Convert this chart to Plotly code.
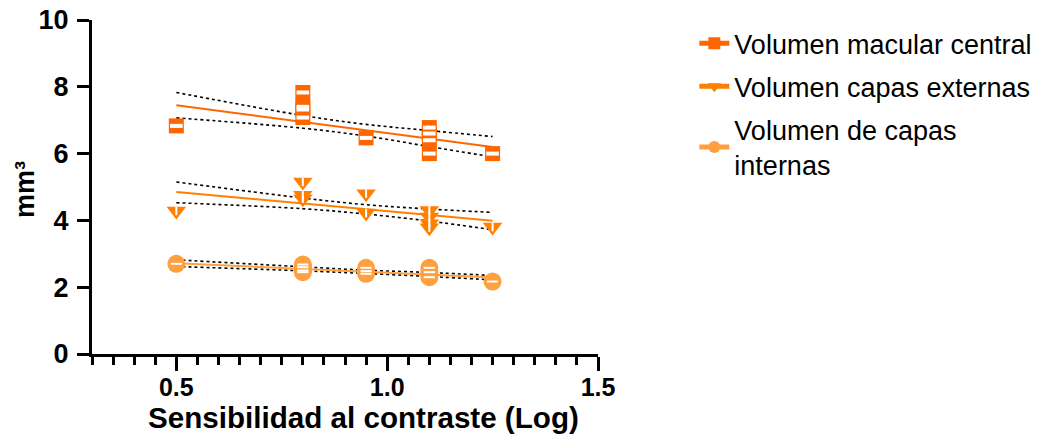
import plotly.graph_objects as go

# ---- data ----
x_macular = [0.5, 0.8, 0.8, 0.8, 0.8, 0.95, 1.1, 1.1, 1.1, 1.1, 1.25]
y_macular = [6.83, 7.83, 7.40, 7.32, 7.08, 6.47, 6.78, 6.60, 6.40, 6.00, 6.00]

x_externas = [0.5, 0.8, 0.8, 0.8, 0.95, 0.95, 1.1, 1.1, 1.1, 1.1, 1.25]
y_externas = [4.28, 5.15, 4.75, 4.65, 4.80, 4.22, 4.30, 4.10, 3.90, 3.78, 3.80]

x_internas = [0.5, 0.8, 0.8, 0.8, 0.8, 0.95, 0.95, 0.95, 1.1, 1.1, 1.1, 1.25]
y_internas = [2.70, 2.68, 2.60, 2.50, 2.45, 2.58, 2.48, 2.40, 2.58, 2.45, 2.30, 2.17]

# regression line and 95% band read at these x positions
x_fit = [0.5, 0.8, 0.95, 1.1, 1.25]
fit_macular = [7.45, 6.95, 6.70, 6.45, 6.20]
upper_macular = [7.83, 7.14, 6.875, 6.69, 6.51]
lower_macular = [7.07, 6.76, 6.525, 6.21, 5.90]

fit_externas = [4.85, 4.51, 4.33, 4.16, 3.99]
upper_externas = [5.15, 4.67, 4.47, 4.34, 4.24]
lower_externas = [4.53, 4.35, 4.19, 3.98, 3.72]

fit_internas = [2.72, 2.55, 2.46, 2.38, 2.29]
upper_internas = [2.82, 2.61, 2.51, 2.44, 2.35]
lower_internas = [2.62, 2.49, 2.41, 2.32, 2.22]

names = ["Volumen macular central", "Volumen capas externas", "Volumen de capas<br>internas"]
colors = ["#FF6600", "#FF8000", "#FFA040"]

x_ticks = [0.5, 1.0, 1.5]
x_tick_labels = ["0.5", "1.0", "1.5"]
y_ticks = [0, 2, 4, 6, 8, 10]

x_title = "Sensibilidad al contraste (Log)"
y_title = "mm³"

series = [
    (x_macular, y_macular, fit_macular, upper_macular, lower_macular),
    (x_externas, y_externas, fit_externas, upper_externas, lower_externas),
    (x_internas, y_internas, fit_internas, upper_internas, lower_internas),
]

FONT = "Liberation Sans, Arial, Helvetica, sans-serif"

fig = go.Figure()

marker_main = [
    dict(symbol="square", size=15),
    dict(symbol="triangle-down", size=17),
    dict(symbol="circle", size=18),
]
marker_inner = [
    dict(symbol="line-ew", size=9, line=dict(color="white", width=4)),
    dict(symbol="line-ns", size=6, line=dict(color="white", width=2)),
    dict(symbol="line-ew", size=8, line=dict(color="white", width=2)),
]

for i, (xv, yv, fit, up, lo) in enumerate(series):
    for band in (lo, up):
        fig.add_trace(go.Scatter(x=x_fit, y=band, mode="lines", showlegend=False,
                                 line=dict(color="black", width=1.6, dash="dot", shape="spline"),
                                 hoverinfo="skip"))
    fig.add_trace(go.Scatter(x=[x_fit[0], x_fit[-1]], y=[fit[0], fit[-1]], mode="lines",
                             showlegend=False, line=dict(color=colors[i], width=2),
                             hoverinfo="skip"))

for i, (xv, yv, fit, up, lo) in enumerate(series):
    mm = dict(marker_main[i])
    mm["color"] = colors[i]
    mm["line"] = dict(width=0)
    fig.add_trace(go.Scatter(x=xv, y=yv, mode="markers", marker=mm, showlegend=False))
    mi = dict(marker_inner[i])
    mi["color"] = "white"
    fig.add_trace(go.Scatter(x=xv, y=yv, mode="markers", marker=mi, showlegend=False,
                             hoverinfo="skip"))

# legend entries (line + marker)
for i in range(3):
    mm = dict(marker_main[i])
    mm["color"] = colors[i]
    mm["size"] = 14
    fig.add_trace(go.Scatter(x=[None], y=[None], mode="lines+markers", name=names[i],
                             legendgroup="g%d" % i,
                             marker=mm, line=dict(color=colors[i], width=2)))

fig.update_layout(
    width=1041, height=445,
    margin=dict(l=92, r=443, t=20, b=91, autoexpand=False),
    plot_bgcolor="white", paper_bgcolor="white",
    font=dict(family=FONT, color="black"),
    showlegend=True,
    legend=dict(xref="container", yref="container", x=0.667, y=0.957,
                xanchor="left", yanchor="top",
                font=dict(family=FONT, size=27, color="black"),
                tracegroupgap=5, itemsizing="constant", bgcolor="rgba(0,0,0,0)"),
    xaxis=dict(range=[0.3, 1.5], tickvals=x_ticks, ticktext=x_tick_labels,
               automargin=False,
               showgrid=False, zeroline=False, showline=True, linecolor="black",
               linewidth=3, ticks="outside", ticklen=14, tickwidth=3, tickcolor="black",
               tickfont=dict(family=FONT, size=25, color="black", weight="bold"),
               ticklabelstandoff=-5,
               minor=dict(dtick=0.05, tick0=0.3, ticks="outside", ticklen=8, tickwidth=3,
                          tickcolor="black", showgrid=False)),
    yaxis=dict(range=[0, 10], tickvals=y_ticks, automargin=False,
               showgrid=False, zeroline=False, showline=True, linecolor="black",
               linewidth=3, ticks="outside", ticklen=12, tickwidth=3, tickcolor="black",
               tickfont=dict(family=FONT, size=27, color="black", weight="bold"),
               ticklabelstandoff=3),
    annotations=[
        dict(text="<b>%s</b>" % x_title, xref="paper", yref="paper",
             x=0.5356, y=-0.1916, xanchor="center", yanchor="middle", showarrow=False,
             font=dict(family=FONT, size=29.6, color="black")),
        dict(text="<b>%s</b>" % y_title, xref="paper", yref="paper",
             x=-0.1324, y=0.491, xanchor="center", yanchor="middle", showarrow=False,
             textangle=-90, font=dict(family=FONT, size=27, color="black")),
    ],
)

fig.write_html("out.html", config={"displayModeBar": False},
               post_script="document.body.style.margin='0';")
